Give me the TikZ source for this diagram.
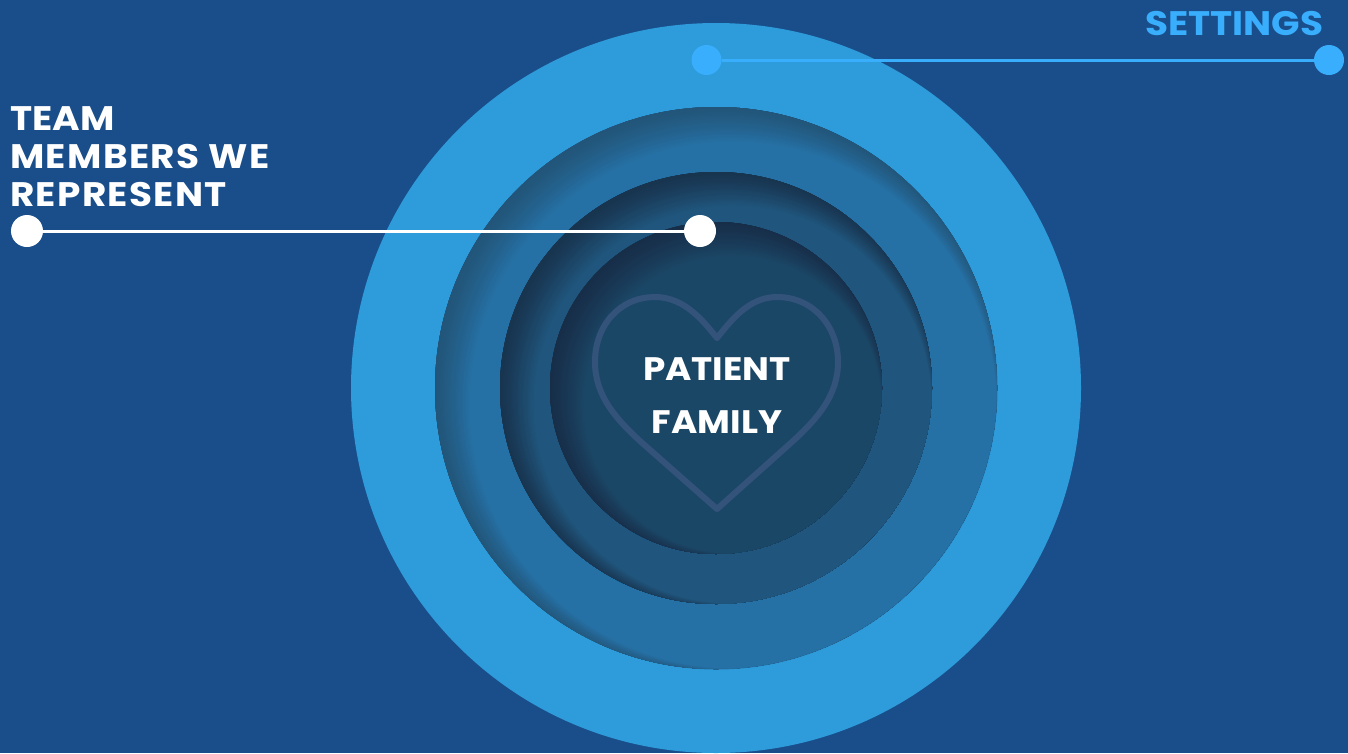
\documentclass[tikz,border=0pt]{standalone}
\usepackage{fontspec}
\setmainfont{Poppins}[BoldFont={Poppins Bold},BoldFeatures={FakeStretch=1.1}]
\definecolor{bgblue}{HTML}{194E8A}
\definecolor{ringA}{HTML}{2E9BDB}
\definecolor{ringB}{HTML}{2570A4}
\definecolor{ringBd}{HTML}{225579}
\definecolor{ringC}{HTML}{20567D}
\definecolor{ringCd}{HTML}{18344F}
\definecolor{ringD}{HTML}{1B4767}
\definecolor{ringDd}{HTML}{172E49}
\definecolor{rimC}{HTML}{2A76AD}
\definecolor{rimD}{HTML}{20598A}
\definecolor{heartc}{HTML}{34537A}
\definecolor{skyc}{HTML}{39AEFD}
\newcommand{\spaced}[1]{{\addfontfeature{LetterSpace=4}#1}}
\tikzset{
  whitedot/.style={circle,fill=white,inner sep=0pt,minimum size=32pt},
  skydot/.style={circle,fill=skyc,inner sep=0pt,minimum size=30pt},
  whiteline/.style={draw=white,line width=3pt},
  skyline/.style={draw=skyc,line width=3pt},
  lbl/.style={font=\fontsize{34}{38}\selectfont\bfseries,text=white,inner sep=0pt},
  heartline/.style={draw=heartc,line width=6pt,line cap=round,line join=round}
}
% #1 R, #2 dark, #3 base, #4 shadow width, #5 rim colour
\newcommand{\sunkdisc}[5]{%
  \begin{scope}
    \fill[#5] (716.5,388.5) circle (#1);
    \clip (716,388) circle (#1);
    \fill[#2] (716,388) circle (#1+2);
    \foreach \i in {1,...,36}{
      \pgfmathsetmacro{\t}{\i/36}
      \pgfmathsetmacro{\off}{\t*#4/2*0.707}
      \pgfmathsetmacro{\rad}{#1-\t*#4/2+6.5}
      \pgfmathsetmacro{\mx}{100*pow(max(0.001,(\t-0.135)/0.865),1.3)}
      \fill[#3!\mx!#2] (716+\off,388+\off) circle (\rad);
    }
  \end{scope}}
\begin{document}
\begin{tikzpicture}[x=1pt,y=-1pt]
  \useasboundingbox (0,0) rectangle (1348,753);
  \clip (0,0) rectangle (1348,753);
  \fill[bgblue] (0,0) rectangle (1348,753);
  \fill[ringA] (716,388) circle (365);
  \sunkdisc{281}{ringBd}{ringB}{48}{ringB}
  \sunkdisc{216}{ringCd}{ringC}{48}{rimC}
  \sunkdisc{166}{ringDd}{ringD}{48}{rimD}
  % heart
  \draw[heartline] (717,338)
     .. controls (704,322) and (685,297) .. (655,297)
     .. controls (620,297) and (595,325) .. (595,362)
     .. controls (595,395) and (615,418) .. (640,441)
     -- (717,509) -- (793,441)
     .. controls (818,418) and (838,395) .. (838,362)
     .. controls (838,325) and (812,297) .. (777,297)
     .. controls (748,297) and (730,322) .. (717,338);
  % labels
  \node[lbl,anchor=base west,align=left] (team) at (10,206) {TEAM\\\spaced{MEMBERS WE}\\\spaced{REPRESENT}};
  \node[lbl,anchor=base east,text=skyc] (settings) at (1323.5,35) {SETTINGS};
  \node[lbl,anchor=center,align=center,font=\fontsize{32.5}{53}\selectfont\bfseries] (patient) at (717,396) {PATIENT\\FAMILY};
  % connectors
  \node[whitedot] (wa) at (27,231) {};
  \node[whitedot] (wb) at (700,231) {};
  \draw[whiteline] (wa) -- (wb);
  \node[skydot] (sa) at (706.5,60) {};
  \node[skydot] (sb) at (1329,60) {};
  \draw[skyline] (sa) -- (sb);
\end{tikzpicture}
\end{document}
